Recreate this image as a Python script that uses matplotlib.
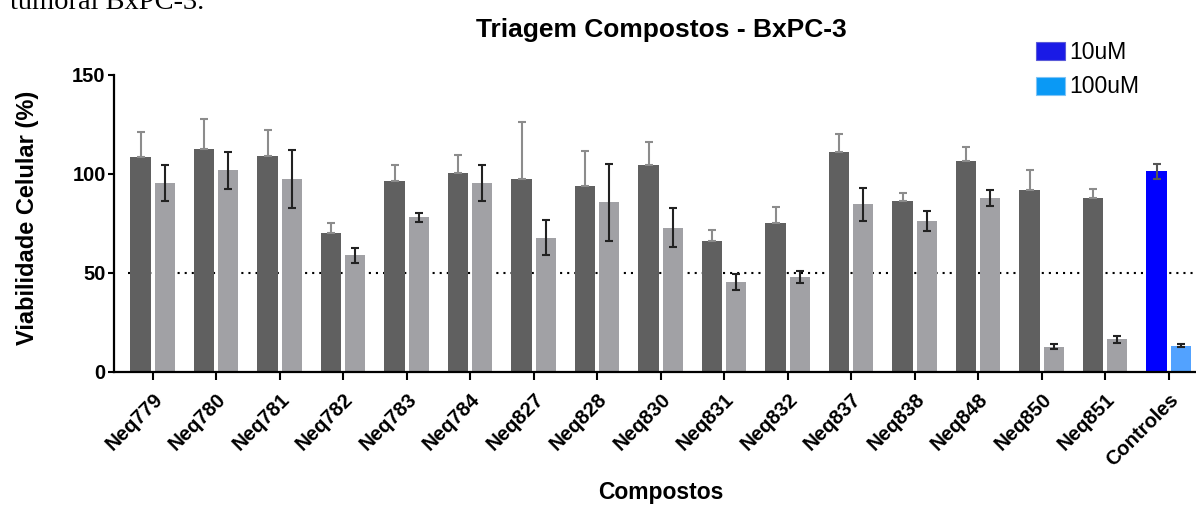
import matplotlib
matplotlib.use('Agg')
import matplotlib.pyplot as plt
import numpy as np
from matplotlib.patches import Patch

plt.rcParams['font.family'] = ['Liberation Sans', 'DejaVu Sans']

# values
compostos = ['Neq779', 'Neq780', 'Neq781', 'Neq782', 'Neq783', 'Neq784', 'Neq827',
             'Neq828', 'Neq830', 'Neq831', 'Neq832', 'Neq837', 'Neq838', 'Neq848',
             'Neq850', 'Neq851', 'Controles']
via_10uM = [108.6, 112.6, 108.9, 70.3, 96.1, 100.5, 97.5, 93.9, 104.2, 66.0, 75.2,
            110.8, 86.2, 106.4, 91.8, 87.9, 101.2]
err_10uM = [12.5, 15.1, 13.4, 4.8, 8.4, 8.8, 28.4, 17.4, 12.0, 5.8, 8.1,
            9.1, 3.8, 7.1, 10.1, 4.2, 3.8]
via_100uM = [95.3, 101.7, 97.5, 58.7, 78.1, 95.3, 67.6, 85.5, 72.8, 45.2, 47.9,
             84.5, 76.2, 87.7, 12.7, 16.4, 13.2]
err_100uM = [9.2, 9.5, 14.6, 3.6, 2.3, 9.2, 8.8, 19.4, 9.7, 4.0, 2.9,
             8.4, 5.0, 3.9, 1.2, 1.8, 0.8]
limiar = 50

n = len(compostos)
x = np.arange(n)
w = 0.32
off = 0.19

cor10 = ['#606060'] * (n - 1) + ['#0000ff']
cor100 = ['#a1a1a5'] * (n - 1) + ['#52a2ff']

fig = plt.figure(figsize=(11.96, 5.05), dpi=100)
ax = fig.add_axes([114 / 1196, 1 - 371.7 / 505, 1 - 114 / 1196, 297 / 505])

ax.hlines(limiar, -0.39, 16.5, colors='black', linestyles=(0, (1, 2.4)), lw=1.5, zorder=1)

ax.bar(x - off, via_10uM, width=w, color=cor10, edgecolor='none', zorder=2)
ax.bar(x + off, via_100uM, width=w, color=cor100, edgecolor='none', zorder=2)

# error bars: compounds show only the upper half on the dark bars
low10 = [0] * (n - 1)
ax.errorbar(x[:-1] - off, via_10uM[:-1], yerr=[low10, err_10uM[:-1]], fmt='none',
            ecolor='#8c8c8c', elinewidth=1.5, capsize=3.2, capthick=1.5, zorder=3)
ax.errorbar(x[-1:] - off, via_10uM[-1:], yerr=err_10uM[-1:], fmt='none',
            ecolor='#555555', elinewidth=1.5, capsize=3.2, capthick=1.5, zorder=3)
ax.errorbar(x + off, via_100uM, yerr=err_100uM, fmt='none',
            ecolor='#222222', elinewidth=1.5, capsize=3.2, capthick=1.5, zorder=3)

ax.set_xlim(-0.608, 16.43)
ax.set_ylim(0, 150)
ax.set_yticks([0, 50, 100, 150])
ax.set_xticks(x)
ax.set_xticklabels(compostos, rotation=45, ha='right', rotation_mode='anchor',
                   fontsize=14.5, fontweight='bold')
for lab in ax.get_yticklabels():
    lab.set_fontsize(14.5)
    lab.set_fontweight('bold')

for s in ['top', 'right']:
    ax.spines[s].set_visible(False)
for s in ['left', 'bottom']:
    ax.spines[s].set_linewidth(1.6)
ax.tick_params(axis='x', length=6, width=1.5, pad=7)
ax.tick_params(axis='y', length=4, width=1.5, pad=2)

fig.text(661.5 / 1196, 1 - 30 / 505, 'Triagem Compostos - BxPC-3', ha='center', va='center',
         fontsize=19, fontweight='bold')
fig.text(28 / 1196, 1 - 218 / 505, 'Viabilidade Celular (%)', rotation=90, ha='center',
         va='center', fontsize=17, fontweight='bold')
fig.text(661 / 1196, 1 - 492 / 505, 'Compostos', ha='center', va='center',
         fontsize=16.5, fontweight='bold')
fig.text(10 / 1196, 1 - 9 / 505, 'tumoral BxPC-3.', ha='left', va='baseline',
         fontsize=20.5, family='Liberation Serif')

handles = [Patch(facecolor='#1a1ae6', edgecolor='#5a5ad8', lw=0.8, label='10uM'),
           Patch(facecolor='#0a99f5', edgecolor='#7fc4f5', lw=0.8, label='100uM')]
fig.legend(handles=handles, loc='upper left', bbox_to_anchor=(1036 / 1196, 1 - 41 / 505),
           frameon=False, fontsize=16.5, handlelength=1.27, handleheight=0.83,
           handletextpad=0.2, labelspacing=0.5, borderpad=0, borderaxespad=0)

fig.savefig('out.png', dpi=100)
